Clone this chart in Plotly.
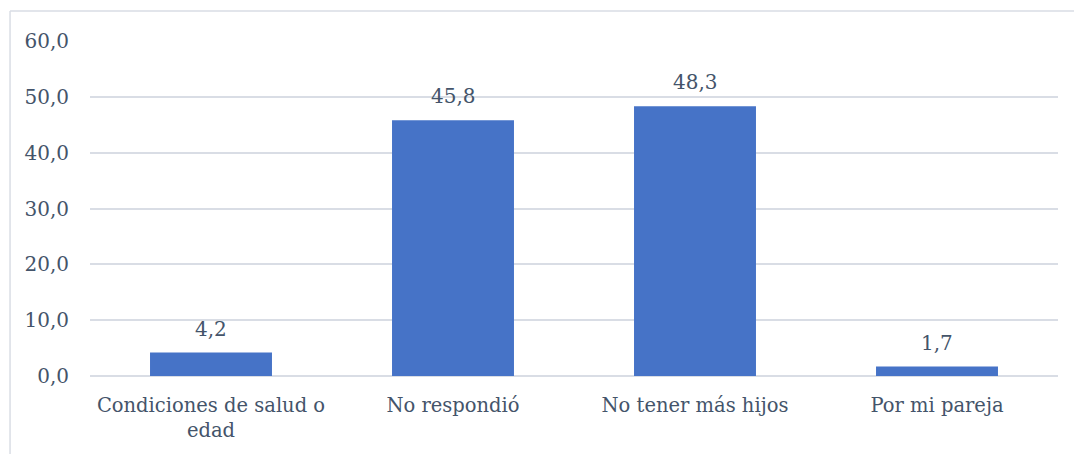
import plotly.graph_objects as go

categories = ["Condiciones de salud o<br>edad", "No respondió", "No tener más hijos", "Por mi pareja"]
values = [4.2, 45.8, 48.3, 1.7]
y_ticks = [0, 10, 20, 30, 40, 50, 60]

text_color = "#44546A"
grid_color = "#D9DDE5"
font_family = "DejaVu Serif"

fig = go.Figure()
fig.add_trace(go.Bar(
    x=categories,
    y=values,
    marker=dict(color="#4673C7", line=dict(width=0)),
    width=0.504,
    hoverinfo="skip",
))

# value labels above each bar
for cat, val in zip(categories, values):
    fig.add_annotation(
        x=cat, y=val, text=f"{val:.1f}".replace(".", ","),
        showarrow=False, yanchor="bottom", yshift=10,
        font=dict(family=font_family, size=20, color=text_color),
    )

# outer chart frame (top and left edges)
fig.add_shape(type="line", xref="paper", yref="paper",
              x0=-0.0826, x1=1.2, y0=1.0896, y1=1.0896,
              line=dict(color=grid_color, width=1.5))
fig.add_shape(type="line", xref="paper", yref="paper",
              x0=-0.0826, x1=-0.0826, y0=-0.5, y1=1.0896,
              line=dict(color=grid_color, width=1.5))

fig.update_layout(
    width=1074, height=454,
    margin=dict(l=90, r=16, t=41, b=78, autoexpand=False),
    paper_bgcolor="white", plot_bgcolor="white",
    separators=",.",
    showlegend=False,
    font=dict(family=font_family, size=20, color=text_color),
    bargap=0.496,
)
fig.update_xaxes(
    showgrid=False, zeroline=False, showline=False,
    tickfont=dict(family=font_family, size=19.5, color=text_color),
    ticklabelstandoff=15,
    automargin=False,
    fixedrange=True,
)
fig.update_yaxes(
    range=[0, 60], tickvals=y_ticks, tickformat=".1f",
    showgrid=True, gridcolor=grid_color, gridwidth=1.5,
    zeroline=True, zerolinecolor=grid_color, zerolinewidth=1.5,
    showline=False,
    tickfont=dict(family=font_family, size=20, color=text_color),
    ticklabelstandoff=20,
    automargin=False,
    fixedrange=True,
)

fig.write_html("out.html")
